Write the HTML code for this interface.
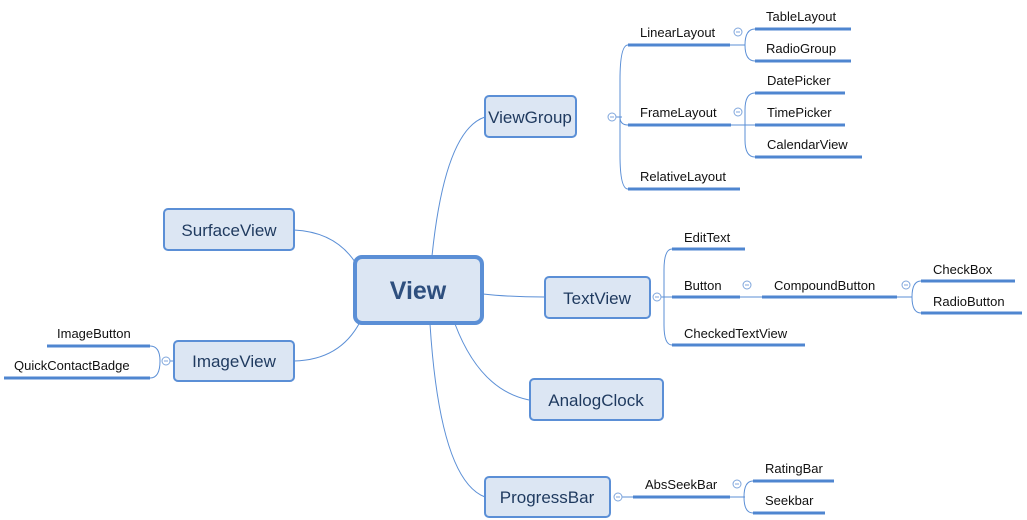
<!DOCTYPE html>
<html><head><meta charset="utf-8"><style>
html,body{margin:0;padding:0;background:#fff;}
svg{display:block;}
text{font-family:"Liberation Sans",sans-serif;}
.l{font-size:13px;fill:#111;}
.n{font-size:17px;fill:#1f3a5f;}
</style></head><body>
<svg width="1027" height="520" viewBox="0 0 1027 520" xmlns="http://www.w3.org/2000/svg">
<g fill="none" stroke="#5b8fd6" stroke-width="1">
<!-- main branches -->
<path d="M432 256 Q445 130 485 117"/>
<path d="M355 262 Q335 232 294 230"/>
<path d="M360 322 Q340 360 294 361"/>
<path d="M483 294 Q510 297 545 297"/>
<path d="M455 324 Q480 390 529 400"/>
<path d="M430 324 Q440 480 485 497"/>
<!-- ViewGroup children -->
<path d="M616 117 L622 117"/>
<path d="M628 45 Q620 45 620 80 L620 155 Q620 189 628 189"/>
<path d="M620 117 Q620 125 628 125"/>
<path d="M730 45 L745 45"/>
<path d="M755 29 Q745 29 745 45 Q745 61 755 61"/>
<path d="M731 125 L755 125"/>
<path d="M755 93 Q745 93 745 110 L745 140 Q745 157 755 157"/>
<!-- TextView children -->
<path d="M661 297 L672 297"/>
<path d="M672 249 Q664 249 664 270 L664 325 Q664 345 672 345"/>
<path d="M740 297 L762 297"/>
<path d="M897 297 L912 297"/>
<path d="M921 281 Q912 281 912 297 Q912 313 921 313"/>
<!-- ImageView children -->
<path d="M173 361 L162 361"/>
<path d="M150 346 Q160 346 160 361 Q160 378 150 378"/>
<!-- ProgressBar children -->
<path d="M622 497 L633 497"/>
<path d="M730 497 L745 497"/>
<path d="M753 481 Q744 481 744 497 Q744 513 753 513"/>
</g>
<!-- underlines -->
<g stroke="#4f86d0" stroke-width="3" fill="none">
<line x1="628" y1="45" x2="730" y2="45"/>
<line x1="755" y1="29" x2="851" y2="29"/>
<line x1="755" y1="61" x2="851" y2="61"/>
<line x1="755" y1="93" x2="845" y2="93"/>
<line x1="755" y1="125" x2="845" y2="125"/>
<line x1="755" y1="157" x2="862" y2="157"/>
<line x1="628" y1="125" x2="731" y2="125"/>
<line x1="628" y1="189" x2="740" y2="189"/>
<line x1="672" y1="249" x2="745" y2="249"/>
<line x1="672" y1="297" x2="740" y2="297"/>
<line x1="762" y1="297" x2="897" y2="297"/>
<line x1="921" y1="281" x2="1015" y2="281"/>
<line x1="921" y1="313" x2="1022" y2="313"/>
<line x1="672" y1="345" x2="805" y2="345"/>
<line x1="47" y1="346" x2="150" y2="346"/>
<line x1="4" y1="378" x2="150" y2="378"/>
<line x1="633" y1="497" x2="730" y2="497"/>
<line x1="753" y1="481" x2="834" y2="481"/>
<line x1="753" y1="513" x2="825" y2="513"/>
</g>
<!-- collapse circles -->
<g fill="#fff" stroke="#7fa6dc" stroke-width="1">
<circle cx="612" cy="117" r="4"/><circle cx="738" cy="32" r="4"/><circle cx="738" cy="112" r="4"/>
<circle cx="657" cy="297" r="4"/><circle cx="747" cy="285" r="4"/><circle cx="906" cy="285" r="4"/>
<circle cx="166" cy="361" r="4"/><circle cx="618" cy="497" r="4"/><circle cx="737" cy="484" r="4"/>
</g>
<g stroke="#7fa6dc" stroke-width="1">
<line x1="610" y1="117" x2="614" y2="117"/><line x1="736" y1="32" x2="740" y2="32"/><line x1="736" y1="112" x2="740" y2="112"/>
<line x1="655" y1="297" x2="659" y2="297"/><line x1="745" y1="285" x2="749" y2="285"/><line x1="904" y1="285" x2="908" y2="285"/>
<line x1="164" y1="361" x2="168" y2="361"/><line x1="616" y1="497" x2="620" y2="497"/><line x1="735" y1="484" x2="739" y2="484"/>
</g>
<!-- nodes -->
<g fill="#dce6f3" stroke="#5b8fd6" stroke-width="2">
<rect x="485" y="96" width="91" height="41" rx="4"/>
<rect x="164" y="209" width="130" height="41" rx="4"/>
<rect x="174" y="341" width="120" height="40" rx="4"/>
<rect x="545" y="277" width="105" height="41" rx="4"/>
<rect x="530" y="379" width="133" height="41" rx="4"/>
<rect x="485" y="477" width="125" height="40" rx="4"/>
</g>
<rect x="355" y="257" width="127" height="66" rx="7" fill="#dce6f3" stroke="#5b8fd6" stroke-width="4"/>
<text x="418" y="299" text-anchor="middle" style="font-size:25px;font-weight:bold;fill:#2e4f7e">View</text>
<g class="n" text-anchor="middle">
<text x="530" y="123">ViewGroup</text>
<text x="229" y="236">SurfaceView</text>
<text x="234" y="367">ImageView</text>
<text x="597" y="304">TextView</text>
<text x="596" y="406">AnalogClock</text>
<text x="547" y="503">ProgressBar</text>
</g>
<g class="l">
<text x="640" y="37">LinearLayout</text>
<text x="766" y="21">TableLayout</text>
<text x="766" y="53">RadioGroup</text>
<text x="767" y="85">DatePicker</text>
<text x="767" y="117">TimePicker</text>
<text x="767" y="149">CalendarView</text>
<text x="640" y="117">FrameLayout</text>
<text x="640" y="181">RelativeLayout</text>
<text x="684" y="242">EditText</text>
<text x="684" y="290">Button</text>
<text x="774" y="290">CompoundButton</text>
<text x="933" y="274">CheckBox</text>
<text x="933" y="306">RadioButton</text>
<text x="684" y="338">CheckedTextView</text>
<text x="57" y="338">ImageButton</text>
<text x="14" y="370">QuickContactBadge</text>
<text x="645" y="489">AbsSeekBar</text>
<text x="765" y="473">RatingBar</text>
<text x="765" y="505">Seekbar</text>
</g>
</svg>
</body></html>
